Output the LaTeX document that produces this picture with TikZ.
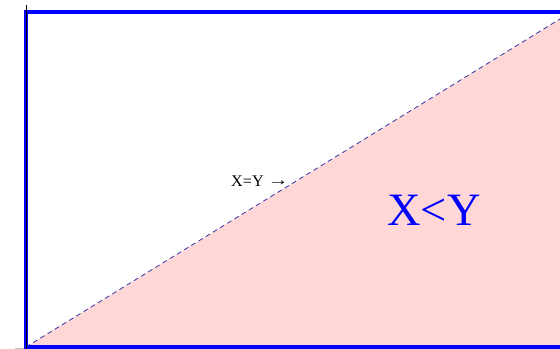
\documentclass[tikz,border=0pt]{standalone}
\usepackage{fontspec}
\setmainfont{Liberation Serif}
\usepackage{xcolor}
\definecolor{framblue}{HTML}{0000FF}
\definecolor{regionpink}{HTML}{FFD7D7}
\definecolor{diagink}{HTML}{3C3CA8}
\usepackage{tikz}
\usetikzlibrary{positioning}

\begin{document}
\begin{tikzpicture}
  \useasboundingbox (0,0) rectangle (14,8.725);
  \clip (0,0) rectangle (14,8.725);
  % Region below the diagonal
  \fill[regionpink] (0.65,0.05) -- (14,8.25) -- (14,0.05) -- cycle;
  % Diagonal X=Y
  \draw[diagink, dashed, dash pattern=on 3.5pt off 2.5pt, line width=0.6pt]
    (0.65,0.05) -- (14,8.25);
  % Axes
  \draw[black!25, line width=0.5pt] (0.375,0.025) -- (14,0.025);
  % Frame
  \draw[framblue, line width=2.6pt] (14.2,8.425) -- (0.65,8.425) -- (0.65,0.05) -- (14.2,0.05);
  \draw[black, line width=0.7pt] (0.65,8.6) -- (0.65,0);
  % Labels
  \node[font=\fontsize{11.5}{13}\selectfont] (eqlabel) at (6.5,4.2) {X=Y \raisebox{0.3pt}{\scalebox{1.3}[1]{→}}};
  \node[font=\fontsize{33}{36}\selectfont, text=framblue] (ltlabel) at (10.85,3.46) {X<Y};
\end{tikzpicture}
\end{document}
